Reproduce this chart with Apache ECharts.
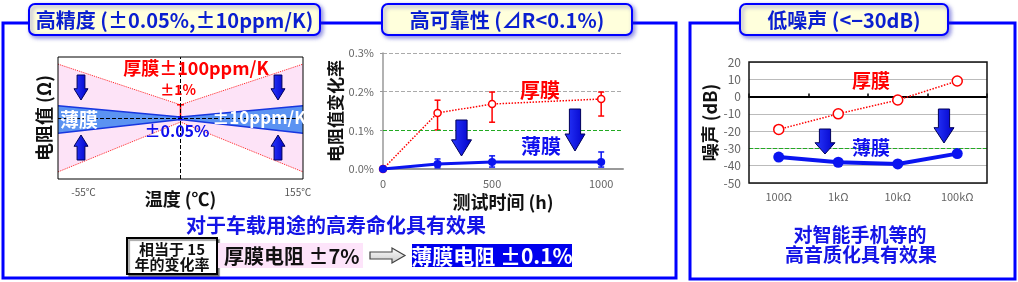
<!DOCTYPE html>
<html><head><meta charset="utf-8">
<script src="https://cdn.jsdelivr.net/npm/echarts@6/dist/echarts.min.js"></script>
<style>html,body{margin:0;padding:0;background:#fff}#c{width:1018px;height:282px}</style>
</head><body><div id="c"></div>
<script>
const FONT = "'Noto Sans CJK SC','Noto Sans',sans-serif";

// ---- Chart 1: temperature characteristic (schematic) ----
const tempPoints = [-80, 40, 160];
const tempTicks = [-55, 155];
const thickUpper = [1.06, 0.26, 1.06];
const thickLower = [-1.06, -0.08, -1.06];
const thinUpper = [0.24, 0.02, 0.24];
const thinLower = [-0.30, -0.03, -0.30];
const thickCenterBar = [0, 0.26];
const thinCenterBar = [-0.03, 0.02];

// ---- Chart 2: reliability (resistance change vs time) ----
const hours = [0, 250, 500, 1000];
const thickDrift = [0, 0.145, 0.168, 0.181];
const thickLow = [null, 0.101, 0.121, 0.137];
const thickHigh = [null, 0.178, 0.199, 0.199];
const thinDrift = [0, 0.013, 0.018, 0.018];
const thinLow = [null, 0.003, 0.005, 0.005];
const thinHigh = [null, 0.026, 0.034, 0.044];
const driftLimit = 0.1;

// ---- Chart 3: noise ----
const resistances = ['100Ω', '1kΩ', '10kΩ', '100kΩ'];
const thickNoise = [-19, -10, -2, 9];
const thinNoise = [-35, -38, -39, -33];
const noiseLimit = -30;

const zip = (xs, ys) => xs.map((x, i) => [x, ys[i]]);

function polySeries(xs, top, bottom, fill, z) {
  return {
    type: 'custom', xAxisIndex: 0, yAxisIndex: 0, z: z, silent: true, data: [[0, 0]],
    renderItem: (p, api) => {
      const a = xs.map((x, i) => api.coord([x, top[i]]));
      const b = xs.map((x, i) => api.coord([x, bottom[i]])).reverse();
      return { type: 'polygon', shape: { points: a.concat(b) }, style: { fill: fill } };
    }
  };
}

function errSeries(xi, yi, xs, lows, highs, color, width, cap, z, topOnly) {
  const data = xs.map((x, i) => [x, lows[i], highs[i]]).filter(d => d[1] != null);
  return {
    type: 'custom', xAxisIndex: xi, yAxisIndex: yi, z: z, silent: true, data: data,
    encode: { x: 0, y: [1, 2] },
    renderItem: (p, api) => {
      const x = api.value(0);
      const a = api.coord([x, api.value(1)]);
      const b = api.coord([x, api.value(2)]);
      const st = { stroke: color, lineWidth: width };
      const ch = [
        { type: 'line', shape: { x1: a[0], y1: a[1], x2: b[0], y2: b[1] }, style: st },
        { type: 'line', shape: { x1: b[0] - cap / 2, y1: b[1], x2: b[0] + cap / 2, y2: b[1] }, style: st }
      ];
      if (!topOnly) ch.push({ type: 'line', shape: { x1: a[0] - cap / 2, y1: a[1], x2: a[0] + cap / 2, y2: a[1] }, style: st });
      return { type: 'group', children: ch };
    }
  };
}

// ---- decorations ----
const g = [];
function frame(x, y, w, h) {
  g.push({ type: 'rect', silent: true, z: 0, shape: { x: x, y: y, width: w, height: h }, style: { fill: 'none', stroke: '#0000ff', lineWidth: 3 } });
}
function tab(x, y, w, h, text) {
  g.push({ type: 'rect', silent: true, z: 5, shape: { x: x, y: y, width: w, height: h, r: 6 },
    style: { fill: '#ffffdc', stroke: '#0000ff', lineWidth: 2, shadowColor: 'rgba(40,40,200,0.5)', shadowBlur: 4, shadowOffsetX: 2, shadowOffsetY: 2 } });
  g.push({ type: 'text', silent: true, z: 6, x: x + w / 2, y: y + h / 2 + 1,
    style: { text: text, fill: '#0a1fd0', font: 'bold 20px ' + FONT, align: 'center', verticalAlign: 'middle' } });
}
function label(x, y, text, color, size, align) {
  g.push({ type: 'text', silent: true, z: 60, x: x, y: y,
    style: { text: text, fill: color, font: 'bold ' + size + 'px ' + FONT, align: align || 'center', verticalAlign: 'middle' } });
}
function blockArrow(cx, y0, y1, w, dir) {
  const hw = w / 2, sw = w * 0.28, h = y1 - y0, hh = Math.min(h * 0.45, w * 0.85);
  let pts;
  if (dir === 'down') {
    pts = [[cx - sw, y0], [cx + sw, y0], [cx + sw, y1 - hh], [cx + hw, y1 - hh], [cx, y1], [cx - hw, y1 - hh], [cx - sw, y1 - hh]];
  } else {
    pts = [[cx - sw, y1], [cx + sw, y1], [cx + sw, y0 + hh], [cx + hw, y0 + hh], [cx, y0], [cx - hw, y0 + hh], [cx - sw, y0 + hh]];
  }
  g.push({ type: 'polygon', silent: true, z: 55, shape: { points: pts },
    style: { fill: new echarts.graphic.LinearGradient(0, 0, 1, 0, [{ offset: 0, color: '#2a3aff' }, { offset: 1, color: '#0000c8' }]),
      stroke: '#00005a', lineWidth: 1 } });
}

frame(3, 23, 673, 255);
frame(690, 23, 325, 256);
tab(29, 4, 291, 31, '高精度 (±0.05%,±10ppm/K)');
tab(382, 4, 250, 31, '高可靠性 (⊿R<0.1%)');
tab(740, 4, 208, 31, '低噪声 (<−30dB)');

// chart 1 annotations
label(196, 68, '厚膜±100ppm/K', '#ff0000', 18);
label(178, 90, '±1%', '#ff0000', 14);
label(79, 120, '薄膜', '#ffffff', 19);
label(177, 131, '±0.05%', '#1010ee', 16);
label(259, 118, '±10ppm/K', '#ffffff', 17);
blockArrow(81, 75, 100, 14, 'down');
blockArrow(81, 135, 160, 14, 'up');
blockArrow(278, 75, 100, 14, 'down');
blockArrow(278, 135, 160, 14, 'up');

// chart 2 annotations
label(540, 90, '厚膜', '#ff0000', 20);
label(541, 146, '薄膜', '#1010ee', 20);
blockArrow(461.5, 120, 156, 20, 'down');
blockArrow(575, 109, 151, 20, 'down');

// chart 3 annotations
label(871, 81, '厚膜', '#ff0000', 19);
label(871, 148, '薄膜', '#1010ee', 19);
blockArrow(825, 129, 154, 20, 'down');
blockArrow(944, 109, 143, 20, 'down');

// bottom texts
label(336, 225, '对于车载用途的高寿命化具有效果', '#1414e6', 20);
g.push({ type: 'rect', silent: true, z: 50, shape: { x: 127, y: 238, width: 90, height: 36 },
  style: { fill: '#fff', stroke: '#000', lineWidth: 2, shadowColor: 'rgba(0,0,0,0.35)', shadowOffsetX: 2, shadowOffsetY: 2, shadowBlur: 1 } });
label(172, 249, '相当于 15', '#111', 15);
label(172, 264, '年的变化率', '#111', 15);
g.push({ type: 'rect', silent: true, z: 50, shape: { x: 218, y: 243, width: 145, height: 25 }, style: { fill: '#fde4fa' } });
label(224, 256, '厚膜电阻 ±7%', '#111', 20, 'left');
g.push({ type: 'polygon', silent: true, z: 50,
  shape: { points: [[370, 252], [392, 252], [392, 248], [405, 255.5], [392, 263], [392, 259], [370, 259]] },
  style: { fill: new echarts.graphic.LinearGradient(0, 0, 0, 1, [{ offset: 0, color: '#ffffff' }, { offset: 1, color: '#c8c8c8' }]), stroke: '#444', lineWidth: 1.2 } });
g.push({ type: 'rect', silent: true, z: 50, shape: { x: 412, y: 244, width: 160, height: 23 }, style: { fill: '#0000ee' } });
label(492, 256, '薄膜电阻 ±0.1%', '#ffffff', 21);
label(860, 235, '对智能手机等的', '#1414e6', 19);
label(861, 255, '高音质化具有效果', '#1414e6', 19);

const nameStyle = { fontFamily: FONT, fontWeight: 'bold', fontSize: 18, color: '#111' };

const option = {
  animation: false,
  textStyle: { fontFamily: FONT },
  grid: [
    { left: 58, top: 57, width: 245, height: 122, show: true, borderColor: '#000', borderWidth: 1, z: 10 },
    { left: 383, top: 53, width: 240, height: 116 },
    { left: 749, top: 62, width: 238, height: 121, show: true, borderColor: '#111', borderWidth: 1.5, z: 10 }
  ],
  xAxis: [
    { gridIndex: 0, type: 'value', min: -80, max: 160, interval: 5,
      axisLine: { show: false, onZero: false }, axisTick: { show: false }, splitLine: { show: false },
      axisLabel: { formatter: v => tempTicks.includes(v) ? v + '℃' : '', color: '#555', fontSize: 10, margin: 8 },
      name: '温度 (℃)', nameLocation: 'middle', nameGap: 11, nameMoveOverlap: false, nameTextStyle: nameStyle },
    { gridIndex: 1, type: 'value', min: 0, max: 1100, interval: 500,
      axisLine: { lineStyle: { color: '#999', width: 2 } }, axisTick: { show: false }, splitLine: { show: false },
      axisLabel: { formatter: v => v % 500 === 0 ? String(v) : '', color: '#666', fontSize: 11, margin: 9 },
      name: '测试时间 (h)', nameLocation: 'middle', nameGap: 24, nameMoveOverlap: false, nameTextStyle: nameStyle },
    { gridIndex: 2, type: 'category', data: resistances, position: 'bottom',
      axisLine: { show: false, onZero: false }, axisTick: { show: false }, splitLine: { show: false },
      axisLabel: { color: '#666', fontSize: 11, margin: 8 } },
    { gridIndex: 2, type: 'category', data: resistances, position: 'top',
      axisLine: { onZero: true, lineStyle: { color: '#000', width: 2 } },
      axisTick: { show: true, length: 3, lineStyle: { color: '#000', width: 1.5 } },
      axisLabel: { show: false }, splitLine: { show: false } }
  ],
  yAxis: [
    { gridIndex: 0, type: 'value', min: -1.2, max: 1.2,
      axisLine: { show: false, onZero: false }, axisTick: { show: false }, axisLabel: { show: false }, splitLine: { show: false },
      name: '电阻值 (Ω)', nameLocation: 'middle', nameGap: 5, nameTextStyle: nameStyle },
    { gridIndex: 1, type: 'value', min: 0, max: 0.3, interval: 0.1,
      axisLine: { show: true, lineStyle: { color: '#999', width: 1.5 } },
      axisTick: { show: true, length: 3, lineStyle: { color: '#999' } },
      axisLabel: { formatter: v => v.toFixed(1) + '%', color: '#666', fontSize: 11, margin: 9 },
      splitLine: { lineStyle: { type: 'dashed', color: '#aaa' } },
      name: '电阻值变化率', nameLocation: 'middle', nameGap: 39, nameTextStyle: Object.assign({}, nameStyle, { fontSize: 17 }) },
    { gridIndex: 2, type: 'value', min: -50, max: 20, interval: 10,
      axisLine: { show: false }, axisTick: { show: false },
      axisLabel: { color: '#666', fontSize: 12, margin: 8 },
      splitLine: { lineStyle: { color: '#bbb', width: 1 } },
      name: '噪声 (dB)', nameLocation: 'middle', nameGap: 30, nameTextStyle: nameStyle }
  ],
  series: [
    // chart 1
    polySeries(tempPoints, thickUpper, thinUpper, '#fde3f7', 1),
    polySeries(tempPoints, thinLower, thickLower, '#fde3f7', 1),
    polySeries(tempPoints, thinUpper, thinLower, '#5b93f2', 1),
    { type: 'line', xAxisIndex: 0, yAxisIndex: 0, z: 2, silent: true, symbol: 'none', data: zip(tempPoints, thinUpper), lineStyle: { color: '#1736e0', width: 1.5 } },
    { type: 'line', xAxisIndex: 0, yAxisIndex: 0, z: 2, silent: true, symbol: 'none', data: zip(tempPoints, thinLower), lineStyle: { color: '#1736e0', width: 1.5 } },
    { type: 'line', xAxisIndex: 0, yAxisIndex: 0, z: 3, silent: true, symbol: 'none', data: zip(tempPoints, thickUpper), lineStyle: { color: '#ff2020', type: 'dotted', width: 1 } },
    { type: 'line', xAxisIndex: 0, yAxisIndex: 0, z: 3, silent: true, symbol: 'none', data: zip(tempPoints, thickLower), lineStyle: { color: '#ff2020', type: 'dotted', width: 1 },
      markLine: { silent: true, symbol: 'none', label: { show: false }, lineStyle: { color: '#000', type: 'dashed', width: 1 },
        data: [{ xAxis: tempPoints[1] }, { yAxis: 0 }] } },
    errSeries(0, 0, [tempPoints[1]], [thickCenterBar[0]], [thickCenterBar[1]], '#ff0000', 1.5, 7, 4, true),
    errSeries(0, 0, [tempPoints[1]], [thinCenterBar[0]], [thinCenterBar[1]], '#1010ee', 1.5, 5, 4, false),
    // chart 2
    errSeries(1, 1, hours, thickLow, thickHigh, '#ff0000', 1.5, 6, 3, false),
    errSeries(1, 1, hours, thinLow, thinHigh, '#0a14f0', 1.5, 6, 3, false),
    { type: 'line', xAxisIndex: 1, yAxisIndex: 1, z: 4, silent: true, data: zip(hours, thickDrift),
      lineStyle: { color: '#ff0000', type: 'dotted', width: 1.5 }, symbol: 'circle', symbolSize: 7,
      itemStyle: { color: '#fff', borderColor: '#ff0000', borderWidth: 1.5 } },
    { type: 'line', xAxisIndex: 1, yAxisIndex: 1, z: 5, silent: true, data: zip(hours, thinDrift),
      lineStyle: { color: '#0a14f0', width: 3 }, symbol: 'circle', symbolSize: 8, itemStyle: { color: '#0a14f0' },
      markLine: { silent: true, symbol: 'none', label: { show: false }, lineStyle: { color: '#22aa22', type: 'dashed', width: 1 },
        data: [{ yAxis: driftLimit }] } },
    // chart 3
    { type: 'line', xAxisIndex: 2, yAxisIndex: 2, z: 4, silent: true, data: thickNoise,
      lineStyle: { color: '#ff0000', type: 'dotted', width: 1.5 }, symbol: 'circle', symbolSize: 10,
      itemStyle: { color: '#fff', borderColor: '#ff0000', borderWidth: 1.5 } },
    { type: 'line', xAxisIndex: 2, yAxisIndex: 2, z: 5, silent: true, data: thinNoise,
      lineStyle: { color: '#0a14f0', width: 4 }, symbol: 'circle', symbolSize: 11, itemStyle: { color: '#0a14f0' },
      markLine: { silent: true, symbol: 'none', label: { show: false }, lineStyle: { color: '#22aa22', type: 'dashed', width: 1 },
        data: [{ yAxis: noiseLimit }] } }
  ],
  graphic: { elements: g }
};

const chart = echarts.init(document.getElementById('c'), null, { renderer: 'canvas' });
chart.setOption(option);
</script>
</body></html>
